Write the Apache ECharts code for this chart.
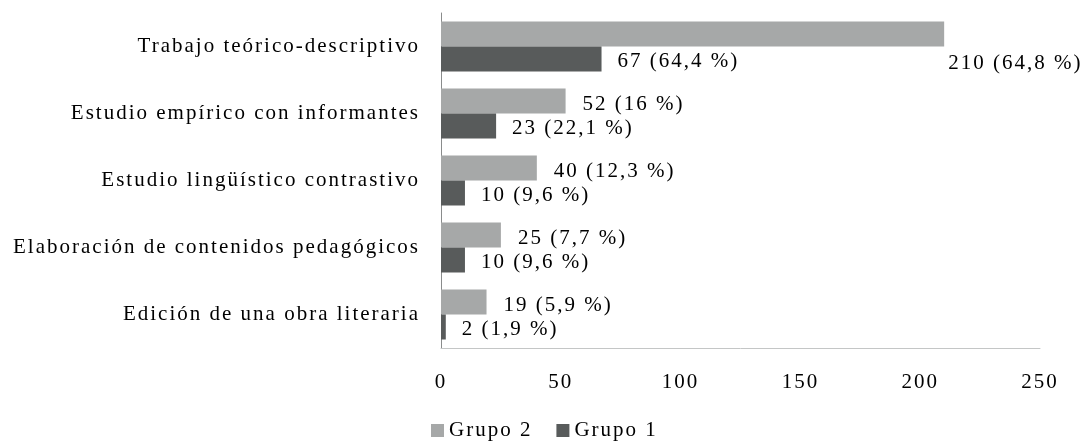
<!DOCTYPE html>
<html>
<head>
<meta charset="utf-8">
<script src="https://cdn.jsdelivr.net/npm/echarts@6/dist/echarts.min.js"></script>
<style>
  html, body { margin: 0; padding: 0; background: #fff; }
  #chart { width: 1084px; height: 444px; }
</style>
</head>
<body>
<div id="chart"></div>
<script>
var categories = [
  'Trabajo teórico-descriptivo',
  'Estudio empírico con informantes',
  'Estudio lingüístico contrastivo',
  'Elaboración de contenidos pedagógicos',
  'Edición de una obra literaria'
]
var grupo2 = [210, 52, 40, 25, 19]
var grupo2Pct = ['64,8', '16', '12,3', '7,7', '5,9']
var grupo1 = [67, 23, 10, 10, 2]
var grupo1Pct = ['64,4', '22,1', '9,6', '9,6', '1,9']
var xTicks = [0, 50, 100, 150, 200, 250]

var font = '"Liberation Serif", "Times New Roman", serif'
var fontSize = 21
var light = '#a6a8a8'
var dark = '#585b5b'

// the source typesetting is spaced out a little: add letter spacing to every
// canvas text, so both drawing and measuring see it
var fontDesc = Object.getOwnPropertyDescriptor(CanvasRenderingContext2D.prototype, 'font')
Object.defineProperty(CanvasRenderingContext2D.prototype, 'font', {
  configurable: true,
  get: fontDesc.get,
  set: function (v) {
    fontDesc.set.call(this, v)
    this.letterSpacing = '2px'
  }
})

function labelText (pct) {
  return function (p) {
    return p.value + ' (' + pct[p.dataIndex] + ' %)'
  }
}

// the longest bar pushes its label below the bar end
var grupo2Data = grupo2.map(function (v, i) {
  if (i === 0) {
    return { value: v, label: { distance: 4, offset: [0, 29] } }
  }
  return v
})

var chart = echarts.init(document.getElementById('chart'))
chart.setOption({
  animation: false,
  textStyle: { fontFamily: font },
  grid: {
    left: 441,
    right: 44,
    top: 13,
    bottom: 96
  },
  legend: {
    top: 419,
    left: 431,
    padding: 0,
    itemWidth: 13,
    itemHeight: 13,
    itemGap: 24,
    icon: 'rect',
    textStyle: { fontFamily: font, fontSize: fontSize, color: '#000' },
    data: ['Grupo 2', 'Grupo 1']
  },
  xAxis: {
    type: 'value',
    min: xTicks[0],
    max: xTicks[xTicks.length - 1],
    interval: 50,
    axisLine: { show: true, onZero: false, lineStyle: { color: '#c4c6c6', width: 1 } },
    axisTick: { show: false },
    splitLine: { show: false },
    axisLabel: { fontFamily: font, fontSize: fontSize, color: '#000', margin: 23 }
  },
  yAxis: {
    type: 'category',
    inverse: true,
    data: categories,
    axisLine: { show: true, lineStyle: { color: '#8a8c8c', width: 1 } },
    axisTick: { show: false },
    axisLabel: { fontFamily: font, fontSize: fontSize, color: '#000', margin: 21 }
  },
  series: [
    {
      name: 'Grupo 2',
      type: 'bar',
      barWidth: 25,
      barGap: '0%',
      itemStyle: { color: light },
      label: {
        show: true,
        position: 'right',
        distance: 17,
        offset: [0, 3],
        fontFamily: font,
        fontSize: fontSize,
        color: '#000',
        formatter: labelText(grupo2Pct)
      },
      data: grupo2Data
    },
    {
      name: 'Grupo 1',
      type: 'bar',
      barWidth: 25,
      barGap: '0%',
      itemStyle: { color: dark },
      label: {
        show: true,
        position: 'right',
        distance: 16,
        offset: [0, 2],
        fontFamily: font,
        fontSize: fontSize,
        color: '#000',
        formatter: labelText(grupo1Pct)
      },
      data: grupo1
    }
  ]
})
</script>
</body>
</html>
